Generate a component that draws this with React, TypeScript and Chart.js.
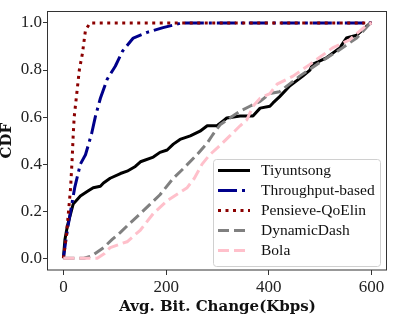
import React, { useEffect, useRef } from 'react';
import { Chart, registerables } from 'chart.js';

Chart.register(...registerables);

const xTicks = [0, 200, 400, 600];
const yTicks = [0, 0.2, 0.4, 0.6, 0.8, 1.0];

const seriesNames = ['Tiyuntsong', 'Throughput-based', 'Pensieve-QoElin', 'DynamicDash', 'Bola'];

const tiyX = [0, 3, 8, 19, 33, 47, 58, 72, 78, 91, 111, 124, 140, 150, 175, 188, 202, 214, 227, 247, 266, 280, 299, 311, 318, 344, 369, 383, 402, 408, 421, 441, 466, 480, 485, 513, 538, 551, 571, 598];
const tiyY = [0, 0.08, 0.14, 0.23, 0.265, 0.285, 0.3, 0.306, 0.32, 0.34, 0.36, 0.37, 0.39, 0.41, 0.43, 0.45, 0.46, 0.485, 0.505, 0.52, 0.54, 0.563, 0.563, 0.584, 0.596, 0.605, 0.605, 0.638, 0.646, 0.66, 0.687, 0.733, 0.774, 0.8, 0.824, 0.853, 0.894, 0.936, 0.948, 1.0];

const thrX = [0, 5, 10, 14, 22, 33, 43, 55, 62, 72, 85, 101, 115, 136, 163, 194, 230, 600];
const thrY = [0, 0.08, 0.15, 0.2, 0.3, 0.4, 0.44, 0.53, 0.6, 0.68, 0.76, 0.816, 0.88, 0.936, 0.96, 0.98, 1.0, 1.0];

const penX = [0, 3, 6, 8, 10, 12, 14, 17, 19, 21, 27, 31, 37, 43, 52, 600];
const penY = [0, 0.05, 0.1, 0.15, 0.2, 0.25, 0.3, 0.42, 0.52, 0.6, 0.72, 0.8, 0.87, 0.97, 1.0, 1.0];

const dynX = [0, 40, 55, 78, 95, 111, 130, 150, 169, 188, 214, 233, 260, 280, 291, 305, 324, 344, 363, 383, 402, 421, 460, 499, 532, 571, 598];
const dynY = [0, 0, 0.01, 0.045, 0.08, 0.11, 0.15, 0.19, 0.23, 0.27, 0.34, 0.38, 0.44, 0.49, 0.526, 0.567, 0.596, 0.625, 0.646, 0.667, 0.7, 0.708, 0.774, 0.832, 0.878, 0.936, 1.0];

const bolaX = [0, 66, 80, 91, 110, 124, 150, 175, 202, 241, 255, 270, 285, 305, 324, 344, 357, 369, 383, 402, 416, 447, 480, 524, 557, 590, 600];
const bolaY = [0, 0, 0.02, 0.045, 0.06, 0.07, 0.12, 0.19, 0.245, 0.3, 0.34, 0.4, 0.44, 0.48, 0.52, 0.563, 0.588, 0.646, 0.68, 0.7, 0.74, 0.774, 0.824, 0.894, 0.928, 0.99, 1.0];

const colors = ['#000000', '#00008B', '#8B0000', '#808080', '#FFC0CB'];
const dashes: number[][] = [[], [19, 5, 3, 5], [3, 4.5], [11, 5], [11, 5]];

const SERIF = "'Liberation Serif', 'Times New Roman', Times, serif";

const pts = (xs: number[], ys: number[]) => xs.map((x, i) => ({ x, y: ys[i] }));

export default function App() {
  const ref = useRef<HTMLCanvasElement>(null);

  useEffect(() => {
    if (!ref.current) return;
    const sets = [pts(tiyX, tiyY), pts(thrX, thrY), pts(penX, penY), pts(dynX, dynY), pts(bolaX, bolaY)];
    const datasets = sets.map((data, i) => ({
      label: seriesNames[i],
      data,
      borderColor: colors[i],
      backgroundColor: colors[i],
      borderDash: dashes[i],
      borderWidth: 3,
      pointRadius: 0,
      fill: false,
      tension: 0,
      borderCapStyle: 'butt' as const,
      borderJoinStyle: 'round' as const,
      order: 4 - i,
    }));

    const framePlugin = {
      id: 'frameLegend',
      afterDatasetsDraw(chart: any) {
        const { ctx, chartArea: a } = chart;
        ctx.save();
        ctx.strokeStyle = '#333';
        ctx.lineWidth = 1;
        ctx.setLineDash([]);
        ctx.strokeRect(Math.round(a.left) - 0.5, Math.round(a.top) + 0.5, Math.round(a.right - a.left), Math.round(a.bottom - a.top) - 0.5);
        const bx = a.right - 174;
        const by = a.bottom - 111;
        const bw = 167;
        const bh = 107;
        ctx.beginPath();
        ctx.roundRect(bx + 0.5, by + 0.5, bw, bh, 3);
        ctx.fillStyle = 'rgba(255,255,255,0.8)';
        ctx.fill();
        ctx.strokeStyle = '#d0d0d0';
        ctx.stroke();
        ctx.font = '15.5px ' + SERIF;
        ctx.textBaseline = 'middle';
        ctx.textAlign = 'left';
        seriesNames.forEach((name, i) => {
          const y = by + 11.5 + i * 20;
          ctx.beginPath();
          ctx.setLineDash(dashes[i]);
          ctx.lineCap = 'butt';
          ctx.strokeStyle = colors[i];
          ctx.lineWidth = 3;
          ctx.moveTo(bx + 5, y);
          ctx.lineTo(bx + 37, y);
          ctx.stroke();
          ctx.setLineDash([]);
          ctx.fillStyle = '#111';
          ctx.fillText(name, bx + 48, y + 0.5);
        });
        ctx.restore();
      },
    };

    const chart = new Chart(ref.current, {
      type: 'line',
      data: { datasets },
      options: {
        animation: false,
        responsive: false,
        maintainAspectRatio: false,
        layout: { padding: { top: 6, right: 12, left: 0, bottom: 0 } },
        plugins: { legend: { display: false }, tooltip: { enabled: false } },
        scales: {
          x: {
            type: 'linear',
            min: -30,
            max: 630,
            afterBuildTicks: (s: any) => { s.ticks = xTicks.map((v) => ({ value: v })); },
            afterFit: (s: any) => { s.height = 49; },
            border: { display: false },
            grid: { display: true, drawOnChartArea: false, drawTicks: true, tickLength: 5, color: '#333', lineWidth: 1 },
            ticks: {
              font: { family: SERIF, size: 17 },
              color: '#222',
              padding: 2,
              maxRotation: 0,
              callback: (v: any) => String(v),
            },
            title: {
              display: true,
              text: 'Avg. Bit. Change(Kbps)',
              font: { family: 'DejaVu Serif', size: 15, weight: 'bold' },
              color: '#111',
              padding: { top: 0, bottom: 3 },
            },
          },
          y: {
            type: 'linear',
            min: -0.05,
            max: 1.05,
            afterBuildTicks: (s: any) => { s.ticks = yTicks.map((v) => ({ value: v })); },
            afterFit: (s: any) => { s.width = 48; },
            border: { display: false },
            grid: { display: true, drawOnChartArea: false, drawTicks: true, tickLength: 5, color: '#333', lineWidth: 1 },
            ticks: {
              font: { family: SERIF, size: 17 },
              color: '#222',
              padding: 1,
              callback: (v: any) => Number(v).toFixed(1),
            },
            title: {
              display: true,
              text: 'CDF',
              font: { family: 'DejaVu Serif', size: 15, weight: 'bold' },
              color: '#111',
              padding: { top: -2, bottom: 0 },
            },
          },
        },
      },
      plugins: [framePlugin],
    } as any);

    return () => chart.destroy();
  }, []);

  return (
    <div style={{ position: 'fixed', left: 0, top: 0, width: 399, height: 319, background: '#fff' }}>
      <canvas ref={ref} width={399} height={319} style={{ display: 'block', width: 399, height: 319 }} />
    </div>
  );
}
